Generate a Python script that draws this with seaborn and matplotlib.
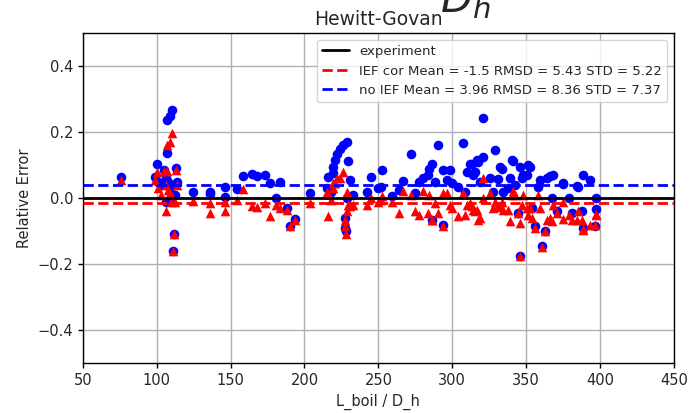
# Relative error vs L_boil / D_h, Hewitt-Govan correlation

import pandas as pd
import numpy as np
import seaborn as sns
import matplotlib
matplotlib.use("Agg")
import matplotlib.pyplot as plt

# data
l_over_d = [75.6, 98.9, 100.4, 101.1, 104.7, 106.3, 106.3, 107.2, 107.2, 109.0,
            110.1, 107.8, 109.0, 111.2, 111.9, 112.4, 112.9, 113.6, 103.0, 110.0,
            124.8, 136.0, 136.0, 146.2, 146.2, 154.1, 158.6, 164.3, 167.7, 173.3,
            176.7, 183.4, 180.5, 188.4, 190.0, 193.6, 203.7, 216.1, 215.0, 217.9,
            219.1, 219.5, 220.6, 222.2, 224.0, 226.3, 228.6, 229.3, 230.8, 227.4,
            227.4, 228.1, 228.6, 233.0, 242.1, 244.8, 250.0, 252.2, 251.6, 259.4,
            264.2, 266.9, 271.9, 274.8, 277.7, 280.0, 283.8, 284.5, 286.1, 286.1,
            288.3, 290.6, 293.5, 294.0, 296.2, 298.5, 300.0, 304.1, 307.1, 308.6,
            309.8, 312.0, 313.2, 314.3, 315.4, 316.5, 317.6, 318.8, 320.6, 321.0,
            325.5, 327.8, 328.9, 331.2, 332.3, 333.4, 334.6, 337.9, 339.1, 340.2,
            341.3, 342.5, 344.7, 345.9, 345.9, 347.0, 348.1, 350.4, 351.5, 352.6,
            353.8, 356.0, 358.2, 359.4, 360.5, 362.8, 363.9, 366.2, 367.3, 368.4,
            370.7, 374.7, 375.2, 379.2, 380.8, 384.2, 385.3, 387.6, 388.7, 388.7,
            393.3, 396.6, 397.3, 397.3]

err_no_ief = [0.063, 0.065, 0.103, 0.05, 0.086, 0.06, -0.01, 0.137, 0.238, 0.25,
              0.266, 0.05, 0.03, -0.16, -0.107, 0.01, 0.093, 0.05, 0.04, 0.0,
              0.018, 0.018, 0.012, 0.035, 0.005, 0.028, 0.068, 0.072, 0.066, 0.07,
              0.045, 0.048, 0.0, -0.03, -0.085, -0.063, 0.015, 0.065, 0.03, 0.02,
              0.075, 0.095, 0.115, 0.135, 0.15, 0.16, 0.17, 0.113, 0.055, -0.06,
              -0.09, -0.1, 0.0, 0.01, 0.02, 0.065, 0.03, 0.085, 0.033, 0.008,
              0.025, 0.053, 0.135, 0.015, 0.05, 0.06, 0.07, 0.09, 0.103, -0.065,
              0.05, 0.162, 0.085, -0.08, 0.055, 0.085, 0.045, 0.035, 0.167, 0.02,
              0.08, 0.105, 0.105, 0.07, 0.08, 0.115, 0.11, 0.05, 0.243, 0.125,
              0.06, 0.02, 0.147, 0.057, 0.095, 0.09, 0.02, 0.03, 0.06, 0.117,
              0.112, 0.04, -0.045, 0.095, -0.174, 0.06, 0.07, 0.07, 0.1, 0.095,
              -0.03, -0.085, 0.035, 0.055, -0.145, -0.1, 0.06, 0.067, 0.0, 0.07,
              -0.04, 0.043, 0.045, 0.0, -0.045, 0.037, 0.033, -0.04, 0.07, -0.09,
              0.055, -0.083, 0.0, -0.033]

err_ief_cor = [0.055, 0.055, 0.08, 0.03, 0.083, 0.04, -0.04, 0.083, 0.16, 0.17,
               0.197, 0.025, 0.015, -0.16, -0.107, -0.01, 0.085, 0.04, 0.01, -0.012,
               -0.008, -0.015, -0.045, -0.01, -0.04, -0.005, 0.028, -0.025, -0.028, -0.015,
               -0.053, -0.03, -0.02, -0.035, -0.085, -0.065, -0.013, -0.053, 0.02, -0.005,
               0.045, 0.03, 0.045, 0.06, 0.06, 0.08, 0.02, -0.02, -0.025, -0.065,
               -0.085, -0.107, -0.04, -0.02, -0.02, 0.0, -0.01, 0.007, -0.005, -0.01,
               -0.045, 0.023, 0.01, -0.04, -0.05, 0.023, -0.045, 0.01, -0.067, -0.067,
               -0.015, -0.045, 0.015, -0.083, 0.015, -0.02, -0.03, -0.055, 0.015, -0.05,
               -0.02, -0.015, -0.023, -0.035, -0.04, -0.035, -0.065, -0.06, 0.06, 0.0,
               0.015, -0.03, -0.01, -0.023, -0.027, -0.01, -0.035, -0.035, -0.07, 0.01,
               0.023, 0.01, -0.045, -0.075, -0.174, -0.02, 0.01, -0.03, -0.05, -0.03,
               -0.06, -0.09, 0.01, -0.03, -0.148, -0.1, -0.065, -0.06, -0.07, -0.02,
               -0.045, -0.01, -0.063, -0.05, -0.067, -0.065, -0.04, -0.065, -0.095, -0.093,
               -0.08, -0.08, -0.05, -0.047]

mean_ief_cor = -0.015
mean_no_ief = 0.0396
label_ief = "IEF cor Mean = -1.5 RMSD = 5.43 STD = 5.22"
label_no_ief = "no IEF Mean = 3.96 RMSD = 8.36 STD = 7.37"

df = pd.DataFrame({"L_over_D": l_over_d,
                   "no_ief": err_no_ief,
                   "ief_cor": err_ief_cor})

sns.set_style("ticks", {"axes.grid": True, "grid.color": "#b0b0b0",
                        "axes.edgecolor": "black"})
plt.rcParams['font.family'] = ['DejaVu Sans']

fig = plt.figure(figsize=(6.9, 4.13), dpi=100)
ax = fig.add_axes([0.1199, 0.120, 0.857, 0.800])

# blue circles first, red triangles on top
sns.scatterplot(data=df, x="L_over_D", y="no_ief", color="blue", marker="o",
                s=48, linewidth=0, legend=False, ax=ax, zorder=3)
sns.scatterplot(data=df, x="L_over_D", y="ief_cor", color="red", marker="^",
                s=48, linewidth=0, legend=False, ax=ax, zorder=3)

ax.axhline(0.0, color="black", lw=2, label="experiment", zorder=4)
ax.axhline(mean_ief_cor, color="red", lw=2, ls="--", label=label_ief, zorder=4)
ax.axhline(mean_no_ief, color="blue", lw=2, ls="--", label=label_no_ief, zorder=4)

ax.set_xlim(50, 450)
ax.set_ylim(-0.5, 0.5)
ax.set_xticks(np.arange(50, 451, 50))
ax.set_yticks([-0.4, -0.2, 0.0, 0.2, 0.4])
ax.tick_params(labelsize=10.5, length=3.5, width=1, color="black")
ax.grid(True, color="#b0b0b0", lw=1)
for sp in ax.spines.values():
    sp.set_color("black")
    sp.set_linewidth(1)

ax.set_xlabel("L_boil / D_h", fontsize=10.5)
ax.set_ylabel("Relative Error", fontsize=10.5)
ax.set_title("Hewitt-Govan", fontsize=13.5, pad=6)

ax.legend(loc="upper right", fontsize=9.5, framealpha=0.8)

# leftover of a big label that got cut off at the top
fig.text(0.638, 0.971, r"$D_h$", fontsize=30, va="baseline")

fig.savefig("out.png", dpi=100)
print("Done")
